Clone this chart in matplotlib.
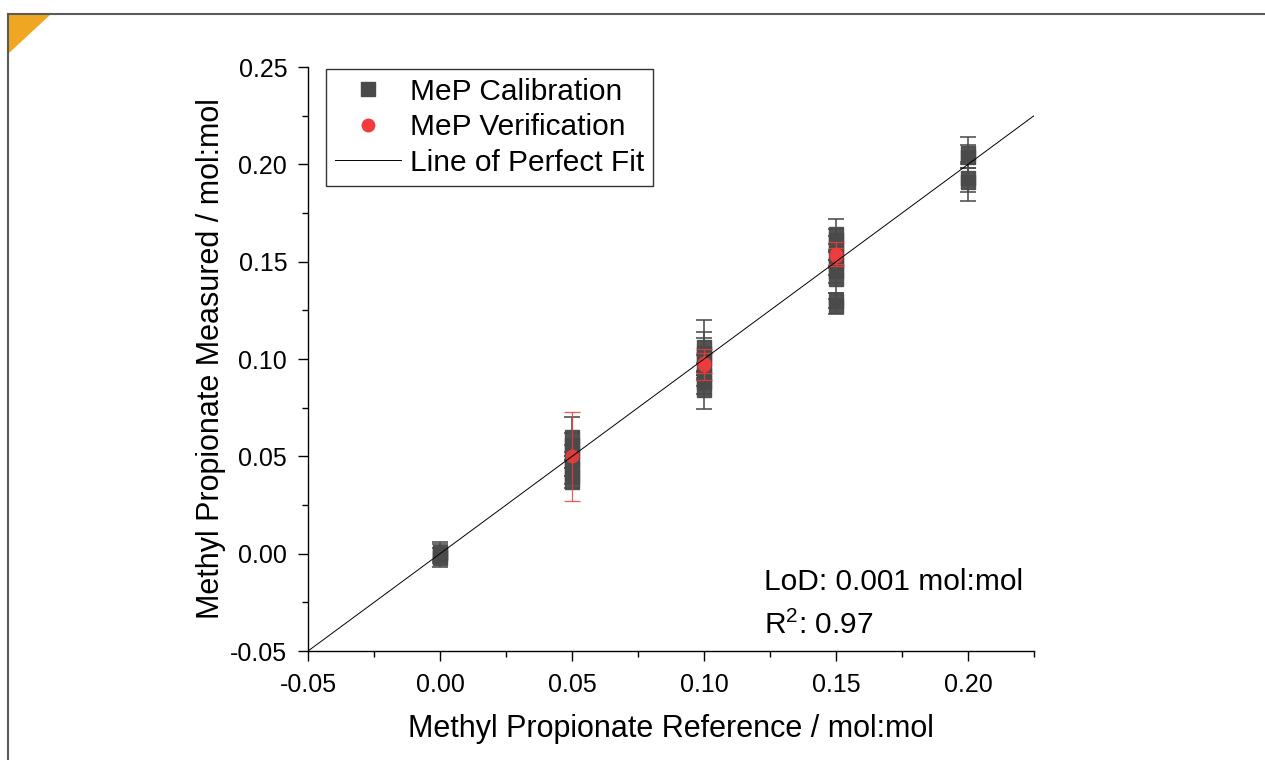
import matplotlib
matplotlib.use('Agg')
import matplotlib.pyplot as plt
from matplotlib.lines import Line2D
from matplotlib.patches import Polygon

# calibration points (reference, measured, uncertainty)
cal_x = [0.00, 0.00, 0.00,
         0.05, 0.05, 0.05, 0.05, 0.05, 0.05, 0.05,
         0.10, 0.10, 0.10, 0.10, 0.10, 0.10, 0.10,
         0.15, 0.15, 0.15, 0.15, 0.15, 0.15, 0.15, 0.15, 0.15,
         0.20, 0.20, 0.20, 0.20]
cal_y = [-0.002, 0.000, 0.001,
         0.037, 0.040, 0.044, 0.048, 0.052, 0.056, 0.060,
         0.084, 0.088, 0.092, 0.096, 0.100, 0.103, 0.106,
         0.127, 0.130, 0.141, 0.145, 0.149, 0.153, 0.157, 0.161, 0.164,
         0.191, 0.193, 0.204, 0.206]
cal_err = [0.005, 0.005, 0.005,
           0.003, 0.004, 0.004, 0.004, 0.004, 0.006, 0.010,
           0.0095, 0.006, 0.006, 0.006, 0.011, 0.011, 0.014,
           0.004, 0.004, 0.007, 0.006, 0.006, 0.006, 0.006, 0.006, 0.008,
           0.010, 0.007, 0.006, 0.008]

# verification points
ver_x = [0.05, 0.10, 0.10, 0.15, 0.15]
ver_y = [0.050, 0.097, 0.098, 0.154, 0.153]
ver_err = [0.023, 0.008, 0.005, 0.006, 0.004]

fit_x = [-0.05, 0.225]

lod_text = 'LoD: 0.001 mol:mol'
r2_text = 'R$^2$: 0.97'

plt.rcParams['font.family'] = ['Liberation Sans', 'DejaVu Sans']
plt.rcParams['mathtext.fontset'] = 'custom'
plt.rcParams['mathtext.rm'] = 'Liberation Sans'

cal_col = '#4a4a4a'
ver_col = '#f03c3c'

fig = plt.figure(figsize=(12.65, 7.6), dpi=100)
ax = fig.add_axes([0.2435, 0.1434, 0.5739, 0.7684])

ax.errorbar(cal_x, cal_y, yerr=cal_err, fmt='s', color=cal_col, ms=9.5,
            mec=cal_col, ecolor=cal_col, elinewidth=1.2, capsize=6,
            capthick=1.2, alpha=0.95, zorder=3)
ax.errorbar(ver_x, ver_y, yerr=ver_err, fmt='o', color=ver_col, ms=9,
            mec=ver_col, ecolor=ver_col, elinewidth=0.9, capsize=6,
            capthick=0.9, alpha=0.85, zorder=4)
ax.plot(fit_x, fit_x, color='black', lw=0.7, zorder=5)

ax.set_xlim(-0.05, 0.225)
ax.set_ylim(-0.05, 0.25)
ax.set_xticks([-0.05, 0.00, 0.05, 0.10, 0.15, 0.20])
ax.set_yticks([-0.05, 0.00, 0.05, 0.10, 0.15, 0.20, 0.25])
ax.set_xticks([-0.025, 0.025, 0.075, 0.125, 0.175, 0.225], minor=True)
ax.set_yticks([-0.025, 0.025, 0.075, 0.125, 0.175, 0.225], minor=True)
ax.xaxis.set_major_formatter(plt.FormatStrFormatter('%.2f'))
ax.yaxis.set_major_formatter(plt.FormatStrFormatter('%.2f'))
ax.tick_params(which='major', direction='out', length=7, width=1, labelsize=18)
ax.tick_params(axis='x', which='major', pad=9)
ax.tick_params(axis='y', which='major', pad=8)
ax.tick_params(which='minor', direction='out', length=4, width=1)
ax.spines['top'].set_visible(False)
ax.spines['right'].set_visible(False)
ax.spines['left'].set_linewidth(1)
ax.spines['bottom'].set_linewidth(1)

ax.set_xlabel('Methyl Propionate Reference / mol:mol', fontsize=22, labelpad=12)
ax.set_ylabel('Methyl Propionate Measured / mol:mol', fontsize=22, labelpad=3)

handles = [
    Line2D([], [], ls='none', marker='s', color=cal_col, ms=9.5),
    Line2D([], [], ls='none', marker='o', color=ver_col, ms=9),
    Line2D([], [], color='black', lw=0.7),
]
labels = ['MeP Calibration', 'MeP Verification', 'Line of Perfect Fit']
leg = ax.legend(handles, labels, loc='upper left', bbox_to_anchor=(0.025, 0.997),
                fontsize=21.5, frameon=True, fancybox=False, borderpad=0.3,
                labelspacing=0.25, handlelength=2.2, handletextpad=0.3,
                borderaxespad=0)
leg.get_frame().set_edgecolor('black')
leg.get_frame().set_linewidth(1)

ax.text(0.628, 0.118, lod_text, transform=ax.transAxes, fontsize=21.5, va='center')
ax.text(0.628, 0.045, r2_text, transform=ax.transAxes, fontsize=21.5, va='center')

# page frame with orange corner
W, H = 1265, 760
fig.add_artist(Line2D([8 / W, 1], [1 - 14 / H, 1 - 14 / H], color='#5a5a5a', lw=1.5,
                      transform=fig.transFigure))
fig.add_artist(Line2D([8 / W, 8 / W], [0, 1 - 14 / H], color='#5a5a5a', lw=1.5,
                      transform=fig.transFigure))
fig.add_artist(Polygon([[8 / W, 1 - 14 / H], [50 / W, 1 - 14 / H], [8 / W, 1 - 53 / H]],
                       closed=True, color='#efa622', transform=fig.transFigure))

fig.savefig('out.png', dpi=100)
